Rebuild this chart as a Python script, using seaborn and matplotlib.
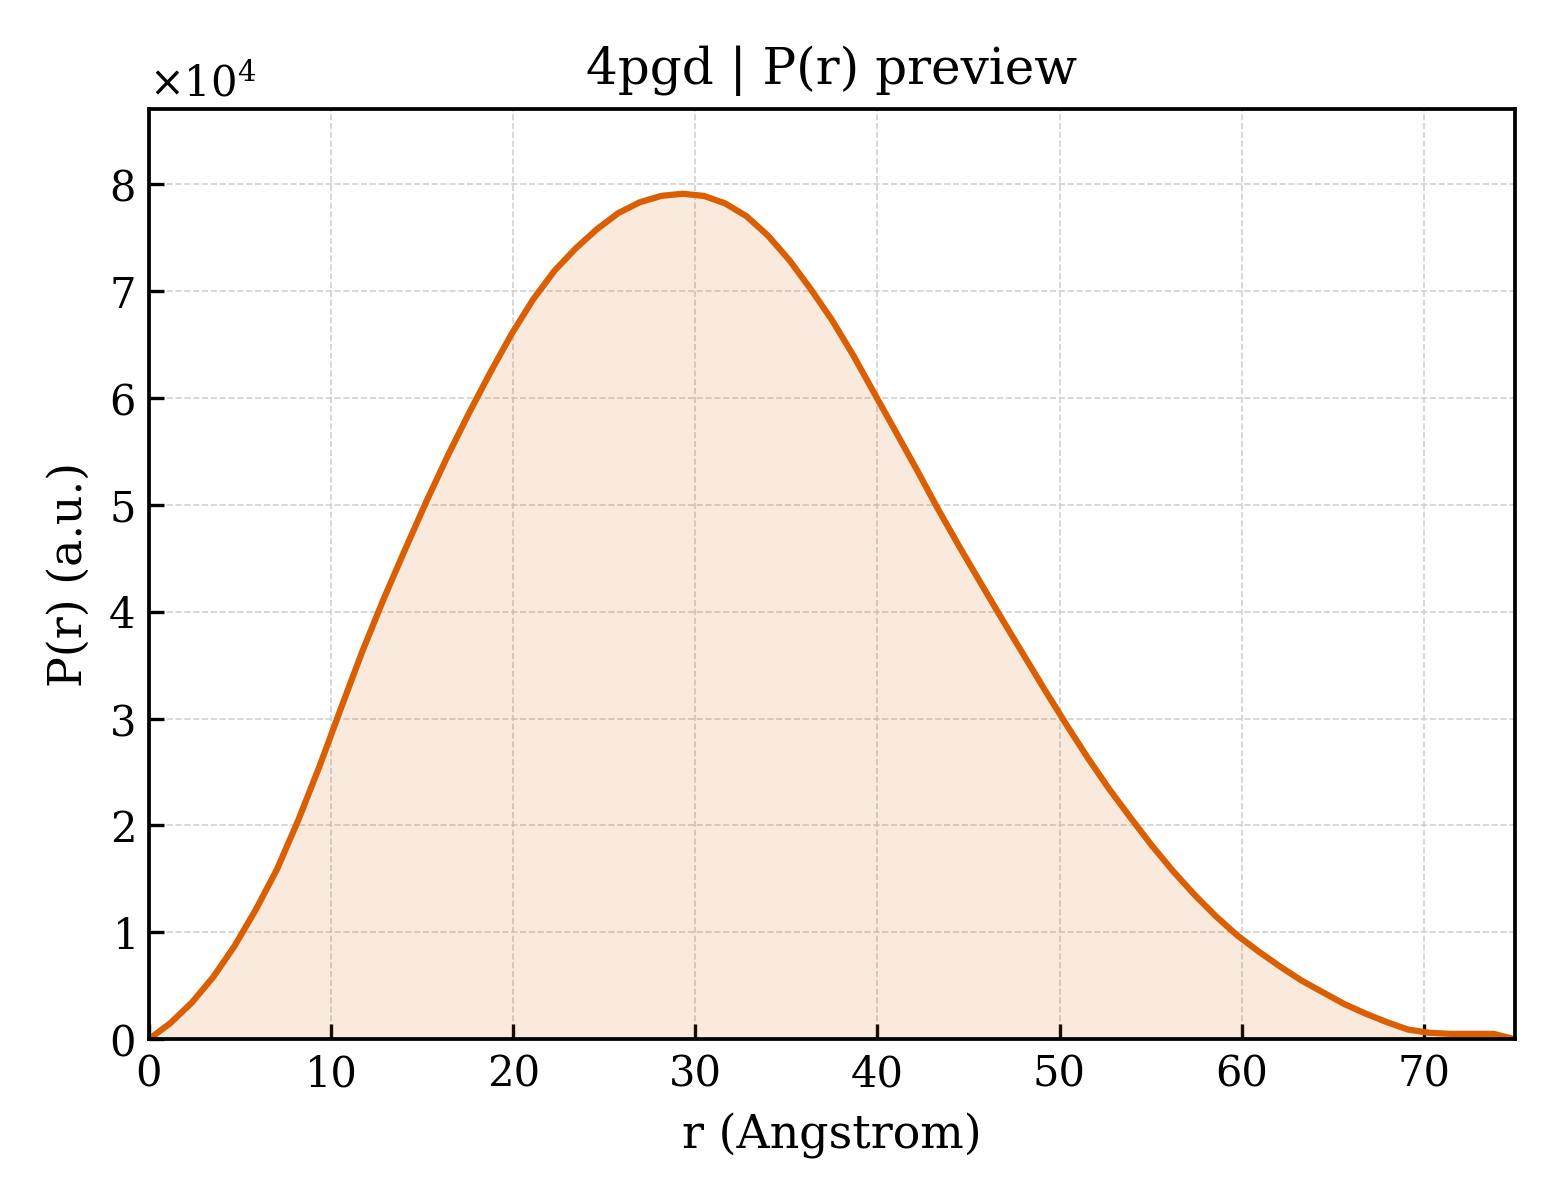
import numpy as np
import pandas as pd
import matplotlib
matplotlib.use("Agg")
import matplotlib.pyplot as plt
import seaborn as sns

r_vals = [0.00, 1.17, 2.34, 3.52, 4.69, 5.86, 7.03, 8.20, 9.38, 10.55,
          11.72, 12.89, 14.06, 15.23, 16.41, 17.58, 18.75, 19.92, 21.09, 22.27,
          23.44, 24.61, 25.78, 26.95, 28.13, 29.30, 30.47, 31.64, 32.81, 33.98,
          35.16, 36.33, 37.50, 38.67, 39.84, 41.02, 42.19, 43.36, 44.53, 45.70,
          46.88, 48.05, 49.22, 50.39, 51.56, 52.73, 53.91, 55.08, 56.25, 57.42,
          58.59, 59.77, 60.94, 62.11, 63.28, 64.45, 65.63, 66.80, 67.97, 69.14,
          70.31, 71.48, 72.66, 73.83, 75.00]
pr_vals = [0, 1500, 3400, 5800, 8700, 12100, 15900, 20500, 25600, 31000,
           36300, 41200, 45800, 50300, 54600, 58600, 62400, 66000, 69200, 71900,
           74000, 75800, 77300, 78300, 78900, 79100, 78900, 78200, 77000, 75200,
           72900, 70200, 67300, 64000, 60400, 56800, 53200, 49500, 46000, 42600,
           39200, 35900, 32600, 29400, 26300, 23400, 20700, 18100, 15700, 13500,
           11500, 9700, 8200, 6800, 5500, 4400, 3300, 2400, 1600, 900,
           600, 500, 500, 500, 0]

title = "4pgd | P(r) preview"
xlabel = "r (Angstrom)"
ylabel = "P(r) (a.u.)"
line_color = "#d95f02"

sns.set_theme(style="white")
plt.rcParams["font.family"] = ["DejaVu Serif"]
plt.rcParams["mathtext.fontset"] = "dejavuserif"
plt.rcParams["xtick.direction"] = "in"
plt.rcParams["ytick.direction"] = "in"
plt.rcParams["axes.edgecolor"] = "black"
plt.rcParams["axes.labelcolor"] = "black"
plt.rcParams["text.color"] = "black"
plt.rcParams["xtick.color"] = "black"
plt.rcParams["ytick.color"] = "black"

df = pd.DataFrame({"r": r_vals, "pr": pr_vals})

fig, ax = plt.subplots(figsize=(5.2, 4), dpi=300)
fig.subplots_adjust(left=0.0955, right=0.971, top=0.909, bottom=0.134)

ax.fill_between(df["r"], df["pr"], 0, color=line_color, alpha=0.13, lw=0)
sns.lineplot(data=df, x="r", y="pr", color=line_color, lw=1.5, ax=ax)

ax.set_xlim(0, 75)
ax.set_ylim(0, max(pr_vals) * 1.1)
ax.grid(True, ls="--", lw=0.4, color="#cccccc", alpha=0.9)
ax.ticklabel_format(axis="y", style="sci", scilimits=(0, 0), useMathText=True)
ax.tick_params(axis="both", which="major", labelsize=10, length=3.5, width=0.8,
               bottom=True, left=True, top=False, right=False)
ax.yaxis.get_offset_text().set_fontsize(10)
for sp in ax.spines.values():
    sp.set_linewidth(0.9)
    sp.set_color("black")

ax.set_xlabel(xlabel, fontsize=11, color="black")
ax.set_ylabel(ylabel, fontsize=11, color="black")
ax.set_title(title, fontsize=12, color="black")

plt.savefig("out.png", dpi=300)
